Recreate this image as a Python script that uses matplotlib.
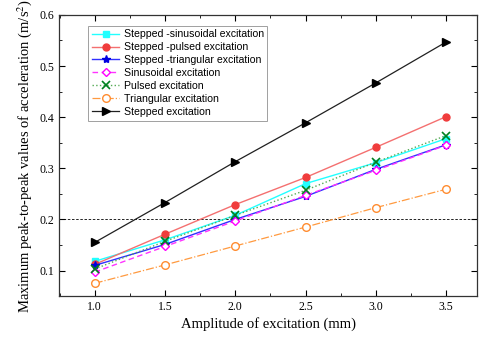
import numpy as np
import matplotlib.pyplot as plt
from matplotlib.ticker import MultipleLocator

amplitude = [1.0, 1.5, 2.0, 2.5, 3.0, 3.5]

stepped_sin = [0.118, 0.160, 0.208, 0.270, 0.311, 0.358]
stepped_pulsed = [0.112, 0.171, 0.229, 0.282, 0.341, 0.401]
stepped_tri = [0.110, 0.151, 0.200, 0.245, 0.298, 0.346]
sinusoidal = [0.097, 0.147, 0.197, 0.247, 0.296, 0.345]
pulsed = [0.103, 0.157, 0.208, 0.257, 0.312, 0.364]
triangular = [0.075, 0.111, 0.148, 0.185, 0.223, 0.259]
stepped = [0.155, 0.233, 0.313, 0.389, 0.467, 0.547]

plt.rcParams['font.family'] = ['Liberation Serif', 'DejaVu Serif']
plt.rcParams['mathtext.fontset'] = 'stix'

fig = plt.figure(figsize=(4.79, 3.38), dpi=100)
ax = fig.add_axes([0.123, 0.124, 0.873, 0.832])

ax.axhline(0.2, color='k', ls=(0, (3, 2)), lw=0.6, zorder=0)

ax.plot(amplitude, stepped_sin, color='#22ffff', marker='s', ms=4.5, lw=1,
        label='Stepped -sinusoidal excitation')
ax.plot(amplitude, stepped_pulsed, color='#f47070', marker='o', ms=5, lw=1,
        mfc='#f03c3c', mec='#f03c3c', label='Stepped -pulsed excitation')
ax.plot(amplitude, stepped_tri, color='#3030ff', marker='*', ms=6, lw=1,
        mfc='#0000e0', mec='#0000e0', label='Stepped -triangular excitation')
ax.plot(amplitude, sinusoidal, color='#ff33ff', ls=(0, (4, 2.5)), marker='D', ms=4.5,
        mfc='white', mec='#ff00ff', lw=1, label='Sinusoidal excitation')
ax.plot(amplitude, pulsed, color='#55aa55', ls=':', marker='x', ms=6, mew=1.2,
        mec='#008020', lw=1, label='Pulsed excitation')
ax.plot(amplitude, triangular, color='#ff9a40', ls='-.', marker='o', ms=5.5,
        mfc='white', mec='#ff8c30', lw=0.9, label='Triangular excitation')
ax.plot(amplitude, stepped, color='#202020', marker='>', ms=5.5, lw=0.9,
        mfc='black', mec='black', label='Stepped excitation')

ax.set_xlim(0.745, 3.72)
ax.set_ylim(0.05, 0.6)
ax.xaxis.set_major_locator(MultipleLocator(0.5))
ax.xaxis.set_minor_locator(MultipleLocator(0.25))
ax.yaxis.set_major_locator(MultipleLocator(0.1))
ax.yaxis.set_minor_locator(MultipleLocator(0.05))
ax.xaxis.set_major_formatter(plt.FormatStrFormatter('%.1f'))
ax.yaxis.set_major_formatter(plt.FormatStrFormatter('%.1f'))
ax.tick_params(which='both', direction='in', top=True, right=True, labelsize=8.5)
ax.tick_params(which='major', length=4)
ax.tick_params(which='minor', length=2)
for s in ax.spines.values():
    s.set_linewidth(0.9)
    s.set_color('#333333')

ax.set_xlabel('Amplitude of excitation (mm)', fontsize=10.5, labelpad=3)
ax.set_ylabel('Maximum peak-to-peak values of acceleration (m/s$^2$)', fontsize=10.5, labelpad=4)

leg = ax.legend(loc='upper left', bbox_to_anchor=(0.07, 0.962), prop={'family': 'Liberation Sans', 'size': 7.6},
                frameon=True, fancybox=False, edgecolor='#888888', handlelength=2.6,
                labelspacing=0.28, borderpad=0.35, handletextpad=0.4, borderaxespad=0)
leg.get_frame().set_linewidth(0.7)

fig.savefig('out.png', dpi=100)
